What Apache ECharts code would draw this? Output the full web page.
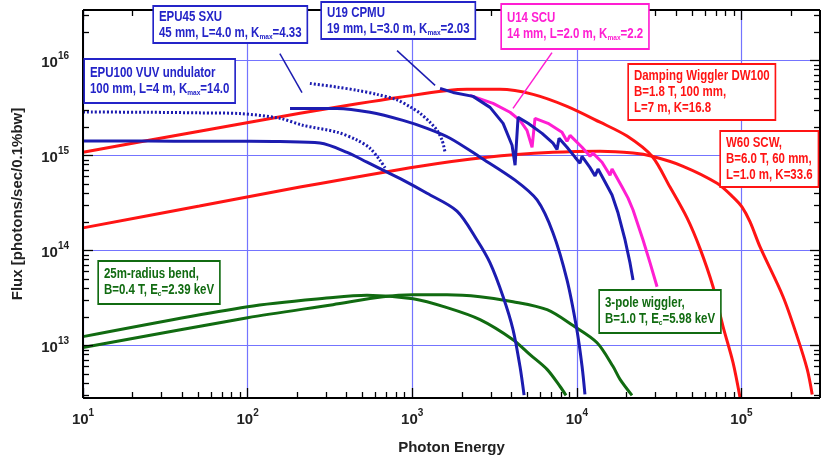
<!DOCTYPE html>
<html>
<head>
<meta charset="utf-8">
<script src="https://cdn.jsdelivr.net/npm/echarts@6/dist/echarts.min.js"></script>
<style>
  html, body { margin: 0; padding: 0; background: #fff; }
  #chart { width: 821px; height: 455px; }
</style>
</head>
<body>
<div id="chart"></div>
<script>
// photon energy in eV, flux in photons/sec/0.1%bw
const epu100Energy = [10, 25, 51, 103, 157, 275, 402, 531, 665, 880, 1230, 1870, 2475, 2970, 3565, 4095, 4515, 4780]
const epu100Flux = [1.42e15, 1.42e15, 1.41e15, 1.41e15, 1.40e15, 1.35e15, 1.08e15, 8.5e14, 7.0e14, 5.5e14, 4.0e14, 2.6e14, 1.29e14, 7.4e13, 3.26e13, 1.47e13, 6.0e12, 3.0e12]

const epu100DotEnergy = [10, 25, 51, 90, 157, 217, 349, 463, 554, 637, 684]
const epu100DotFlux = [2.87e15, 2.85e15, 2.81e15, 2.76e15, 2.46e15, 2.08e15, 1.76e15, 1.45e15, 1.19e15, 8.9e14, 7.4e14]

const epu45Energy = [181, 349, 554, 879, 1230, 1698, 2584, 4215, 5733, 7167, 8714, 10000, 10760, 11200]
const epu45Flux = [3.13e15, 3.13e15, 2.85e15, 2.34e15, 1.93e15, 1.52e15, 9.6e14, 5.5e14, 3.4e14, 1.53e14, 4.9e13, 1.47e13, 6.0e12, 3.05e12]

const epu45DotEnergy = [239, 349, 463, 611, 809, 970, 1115, 1282, 1415, 1518, 1583]
const epu45DotFlux = [5.74e15, 5.25e15, 4.85e15, 4.4e15, 3.85e15, 3.25e15, 2.78e15, 2.24e15, 1.84e15, 1.45e15, 1.08e15]

const u19Energy = [1476, 1770, 2340, 2970, 3565, 4040, 4215, 4395, 5055, 6150, 7165, 7580, 7795, 8715, 9750, 10450, 10750, 12000, 12900, 13450, 14840, 16360, 17800, 19630, 21040, 21950]
const u19Flux = [5.08e15, 4.61e15, 4.19e15, 3.21e15, 2.18e15, 1.28e15, 7.9e14, 2.52e15, 2.18e15, 1.71e15, 1.35e15, 1.16e15, 1.52e15, 1.22e15, 9.6e14, 8.3e14, 9.8e14, 7.5e14, 6.1e14, 7.2e14, 5.25e14, 3.83e14, 2.48e14, 1.29e14, 7.4e13, 4.9e13]

const u14Energy = [2244, 3097, 3928, 4515, 4980, 5345, 5570, 6680, 8125, 8715, 9095, 10750, 12020, 12530, 14220, 15910, 16360, 18830, 20470, 21950, 25240, 27850, 30710]
const u14Flux = [4.3e15, 3.54e15, 2.85e15, 2.34e15, 1.84e15, 1.22e15, 2.46e15, 2.18e15, 1.76e15, 1.41e15, 1.63e15, 1.22e15, 9.8e14, 1.06e15, 8.5e14, 6.2e14, 7.2e14, 4.65e14, 3.56e14, 2.67e14, 1.29e14, 7.4e13, 4.15e13]

const dw100Energy = [10, 51, 208, 843, 2153, 3410, 5420, 8715, 13840, 20190, 28630, 36800, 46700, 56100, 67200, 77300, 88900, 98000]
const dw100Flux = [1.08e15, 1.8e15, 2.78e15, 4.1e15, 4.97e15, 4.97e15, 4.4e15, 3.29e15, 2.24e15, 1.6e15, 9.8e14, 4.65e14, 2.2e14, 1.04e14, 4.15e13, 1.58e13, 6.6e12, 2.84e12]

const w60Energy = [10, 51, 208, 1115, 2845, 7165, 13840, 21950, 28630, 44200, 71100, 88900, 100900, 112800, 129700, 179000, 218000, 251000, 269000]
const w60Flux = [1.73e14, 2.94e14, 4.65e14, 7.72e14, 9.6e14, 1.08e15, 1.11e15, 1.06e15, 9.8e14, 7.7e14, 5.1e14, 3.65e14, 2.86e14, 2.0e14, 1.09e14, 3.26e13, 1.24e13, 5.6e12, 3.05e12]

const bendEnergy = [10, 100, 330, 531, 1012, 1627, 2582, 4095, 5196, 6593, 7909, 8595]
const bendFlux = [1.24e13, 2.56e13, 3.2e13, 3.38e13, 3.1e13, 2.5e13, 1.87e13, 1.15e13, 8.0e12, 5.6e12, 3.7e12, 2.98e12]

const threePoleEnergy = [10, 100, 330, 665, 1012, 1627, 2582, 4095, 6593, 9485, 13270, 16600, 18300, 21630]
const threePoleFlux = [9.5e12, 1.96e13, 2.69e13, 3.26e13, 3.42e13, 3.42e13, 3.26e13, 2.89e13, 2.38e13, 1.62e13, 1.07e13, 6.0e12, 4.39e12, 2.98e12]

// axes
const xMin = 10, xMax = 3e5
const yMin = 2.8e12, yMax = 3.4e16
const xMajorTicks = [10, 100, 1e3, 1e4, 1e5]
const yMajorTicks = [1e13, 1e14, 1e15, 1e16]

const BLUE = '#1c1cb0'
const TEXT_BLUE = '#2424c8'
const RED = '#ff1414'
const MAGENTA = '#ff1ed2'
const GREEN = '#116b11'
const GRID_BLUE = '#7474ff'
const SANS = '"Liberation Sans", Arial, sans-serif'

// minor tick positions 2..9 x each decade inside [lo, hi]
const minorOf = (lo, hi) => {
  const out = []
  for (let d = Math.pow(10, Math.floor(Math.log10(lo))); d <= hi; d *= 10) {
    for (let k = 2; k <= 9; k++) {
      const v = k * d
      if (v >= lo && v <= hi) out.push(v)
    }
  }
  return out
}
const xMinorTicks = minorOf(xMin, xMax)
const yMinorTicks = minorOf(yMin, yMax)

const zip = (xs, ys) => xs.map((x, i) => [x, ys[i]])

const powLabel = v => '{b|10}{s|' + Math.round(Math.log10(v)) + '}'
const powRich = {
  b: { fontSize: 15, fontWeight: 'bold', fontFamily: SANS, color: '#222', verticalAlign: 'bottom' },
  s: { fontSize: 10, fontWeight: 'bold', fontFamily: SANS, color: '#222', verticalAlign: 'top', padding: [0, 0, 9, 0] }
}

const lineSeries = (name, xs, ys, color, extra) => Object.assign({
  name,
  type: 'line',
  data: zip(xs, ys),
  showSymbol: false,
  symbol: 'none',
  smooth: 0.3,
  lineStyle: { color, width: 3 },
  itemStyle: { color },
  silent: true
}, extra || {})

const arrow = (color, from, to) => ({
  silent: true,
  symbol: ['none', 'arrow'],
  symbolSize: [0, 9],
  label: { show: false },
  lineStyle: { color, width: 1.5, type: 'solid' },
  data: [[{ coord: from }, { coord: to }]]
})

// inward tick marks as short segments in data units (about 95 px per y decade, 165 px per x decade)
const yStep = px => Math.pow(10, px / 95)
const xStep = px => Math.pow(10, px / 165)
const seg = (a, b) => [{ coord: a }, { coord: b }]
const tickSegs = []
xMajorTicks.forEach(v => tickSegs.push(seg([v, yMin], [v, yMin * yStep(10)]), seg([v, yMax], [v, yMax / yStep(10)])))
xMinorTicks.forEach(v => tickSegs.push(seg([v, yMin], [v, yMin * yStep(6)]), seg([v, yMax], [v, yMax / yStep(6)])))
yMajorTicks.forEach(v => tickSegs.push(seg([xMin, v], [xMin * xStep(10), v]), seg([xMax, v], [xMax / xStep(10), v])))
yMinorTicks.forEach(v => tickSegs.push(seg([xMin, v], [xMin * xStep(6), v]), seg([xMax, v], [xMax / xStep(6), v])))
const frameSegs = [
  seg([xMin, yMin], [xMax, yMin]),
  seg([xMin, yMax], [xMax, yMax]),
  seg([xMin, yMin], [xMin, yMax]),
  seg([xMax, yMin], [xMax, yMax])
]

const axesSeries = {
  name: 'axes',
  type: 'line',
  data: [[xMin, yMin]],
  showSymbol: false,
  symbol: 'none',
  lineStyle: { opacity: 0 },
  silent: true,
  z: 5,
  markLine: {
    silent: true,
    symbol: ['none', 'none'],
    label: { show: false },
    lineStyle: { color: '#000', width: 1.3, type: 'solid' },
    emphasis: { disabled: true },
    data: tickSegs.concat(frameSegs.map(s => [Object.assign({ lineStyle: { width: 2 } }, s[0]), s[1]]))
  }
}

const labelBox = (x, y, color, text, pad) => ({
  type: 'text',
  x,
  y,
  scaleX: 0.82,
  z: 100,
  style: {
    x: 0,
    y: 0,
    align: 'left',
    verticalAlign: 'top',
    text,
    fill: color,
    fontFamily: SANS,
    fontWeight: 'bold',
    fontSize: 14,
    lineHeight: 16,
    backgroundColor: '#fff',
    borderColor: color,
    borderWidth: 2,
    padding: pad || [2, 6, 1, 6],
    rich: {
      sub: { fontSize: 8, fontFamily: SANS, fontWeight: 'bold', fill: color, verticalAlign: 'bottom', lineHeight: 16 }
    }
  }
})

const chart = echarts.init(document.getElementById('chart'))

chart.setOption({
  animation: false,
  backgroundColor: '#fff',
  grid: { left: 83, right: 1, top: 10, bottom: 57, containLabel: false, outerBoundsMode: 'none' },
  xAxis: {
    type: 'log',
    logBase: 10,
    min: xMin,
    max: xMax,
    axisLine: { show: false },
    axisTick: { show: false },
    axisLabel: { show: true, customValues: xMajorTicks, formatter: powLabel, rich: powRich, margin: 10 },
    splitLine: { show: true, lineStyle: { color: GRID_BLUE, width: 1.2 } },
    name: 'Photon Energy',
    nameLocation: 'middle',
    nameGap: 42,
    nameTextStyle: { fontSize: 15, fontWeight: 'bold', fontFamily: SANS, color: '#222' }
  },
  yAxis: {
    type: 'log',
    logBase: 10,
    min: yMin,
    max: yMax,
    axisLine: { show: false },
    axisTick: { show: false },
    axisLabel: { show: true, customValues: yMajorTicks, formatter: powLabel, rich: powRich, margin: 14 },
    splitLine: { show: true, lineStyle: { color: GRID_BLUE, width: 1.2 } },
    name: 'Flux [photons/sec/0.1%bw]',
    nameLocation: 'middle',
    nameGap: 58,
    nameTextStyle: { fontSize: 15, fontWeight: 'bold', fontFamily: SANS, color: '#222' }
  },
  series: [
    axesSeries,
    lineSeries('25m-radius bend', bendEnergy, bendFlux, GREEN),
    lineSeries('3-pole wiggler', threePoleEnergy, threePoleFlux, GREEN),
    lineSeries('W60 SCW', w60Energy, w60Flux, RED),
    lineSeries('Damping Wiggler DW100', dw100Energy, dw100Flux, RED),
    lineSeries('EPU100 VUV undulator', epu100Energy, epu100Flux, BLUE),
    lineSeries('EPU100 VUV undulator (dotted)', epu100DotEnergy, epu100DotFlux, BLUE,
      { lineStyle: { color: BLUE, width: 3, type: [2, 2] } }),
    lineSeries('EPU45 SXU', epu45Energy, epu45Flux, BLUE,
      { markLine: arrow(BLUE, [157, 1.18e16], [214, 4.6e15]) }),
    lineSeries('EPU45 SXU (dotted)', epu45DotEnergy, epu45DotFlux, BLUE,
      { lineStyle: { color: BLUE, width: 3, type: [2, 2] } }),
    lineSeries('U14 SCU', u14Energy, u14Flux, MAGENTA,
      { smooth: false, markLine: arrow(MAGENTA, [7063, 1.21e16], [4095, 3.13e15]) }),
    lineSeries('U19 CPMU', u19Energy, u19Flux, BLUE,
      { smooth: false, markLine: arrow(BLUE, [809, 1.27e16], [1377, 5.47e15]) })
  ],
  graphic: [
    labelBox(154, 7, TEXT_BLUE, 'EPU45 SXU\n45 mm, L=4.0 m, K{sub|max}=4.33'),
    labelBox(85, 60, TEXT_BLUE, 'EPU100 VUV undulator\n100 mm, L=4 m, K{sub|max}=14.0', [5, 6, 5, 6]),
    labelBox(322, 3, TEXT_BLUE, 'U19 CPMU\n19 mm, L=3.0 m, K{sub|max}=2.03'),
    labelBox(502, 5, MAGENTA, 'U14 SCU\n14 mm, L=2.0 m, K{sub|max}=2.2', [5, 6, 6, 6]),
    labelBox(629, 65, RED, 'Damping Wiggler DW100\nB=1.8 T, 100 mm,\nL=7 m, K=16.8', [3, 6, 3, 6]),
    labelBox(721, 132, RED, 'W60 SCW,\nB=6.0 T, 60 mm,\nL=1.0 m, K=33.6', [3, 6, 3, 6]),
    labelBox(99, 262, GREEN, '25m-radius bend,\nB=0.4 T, E{sub|c}=2.39 keV', [4, 6, 5, 6]),
    labelBox(600, 291, GREEN, '3-pole wiggler,\nB=1.0 T, E{sub|c}=5.98 keV', [4, 6, 5, 6])
  ]
})
</script>
</body>
</html>
